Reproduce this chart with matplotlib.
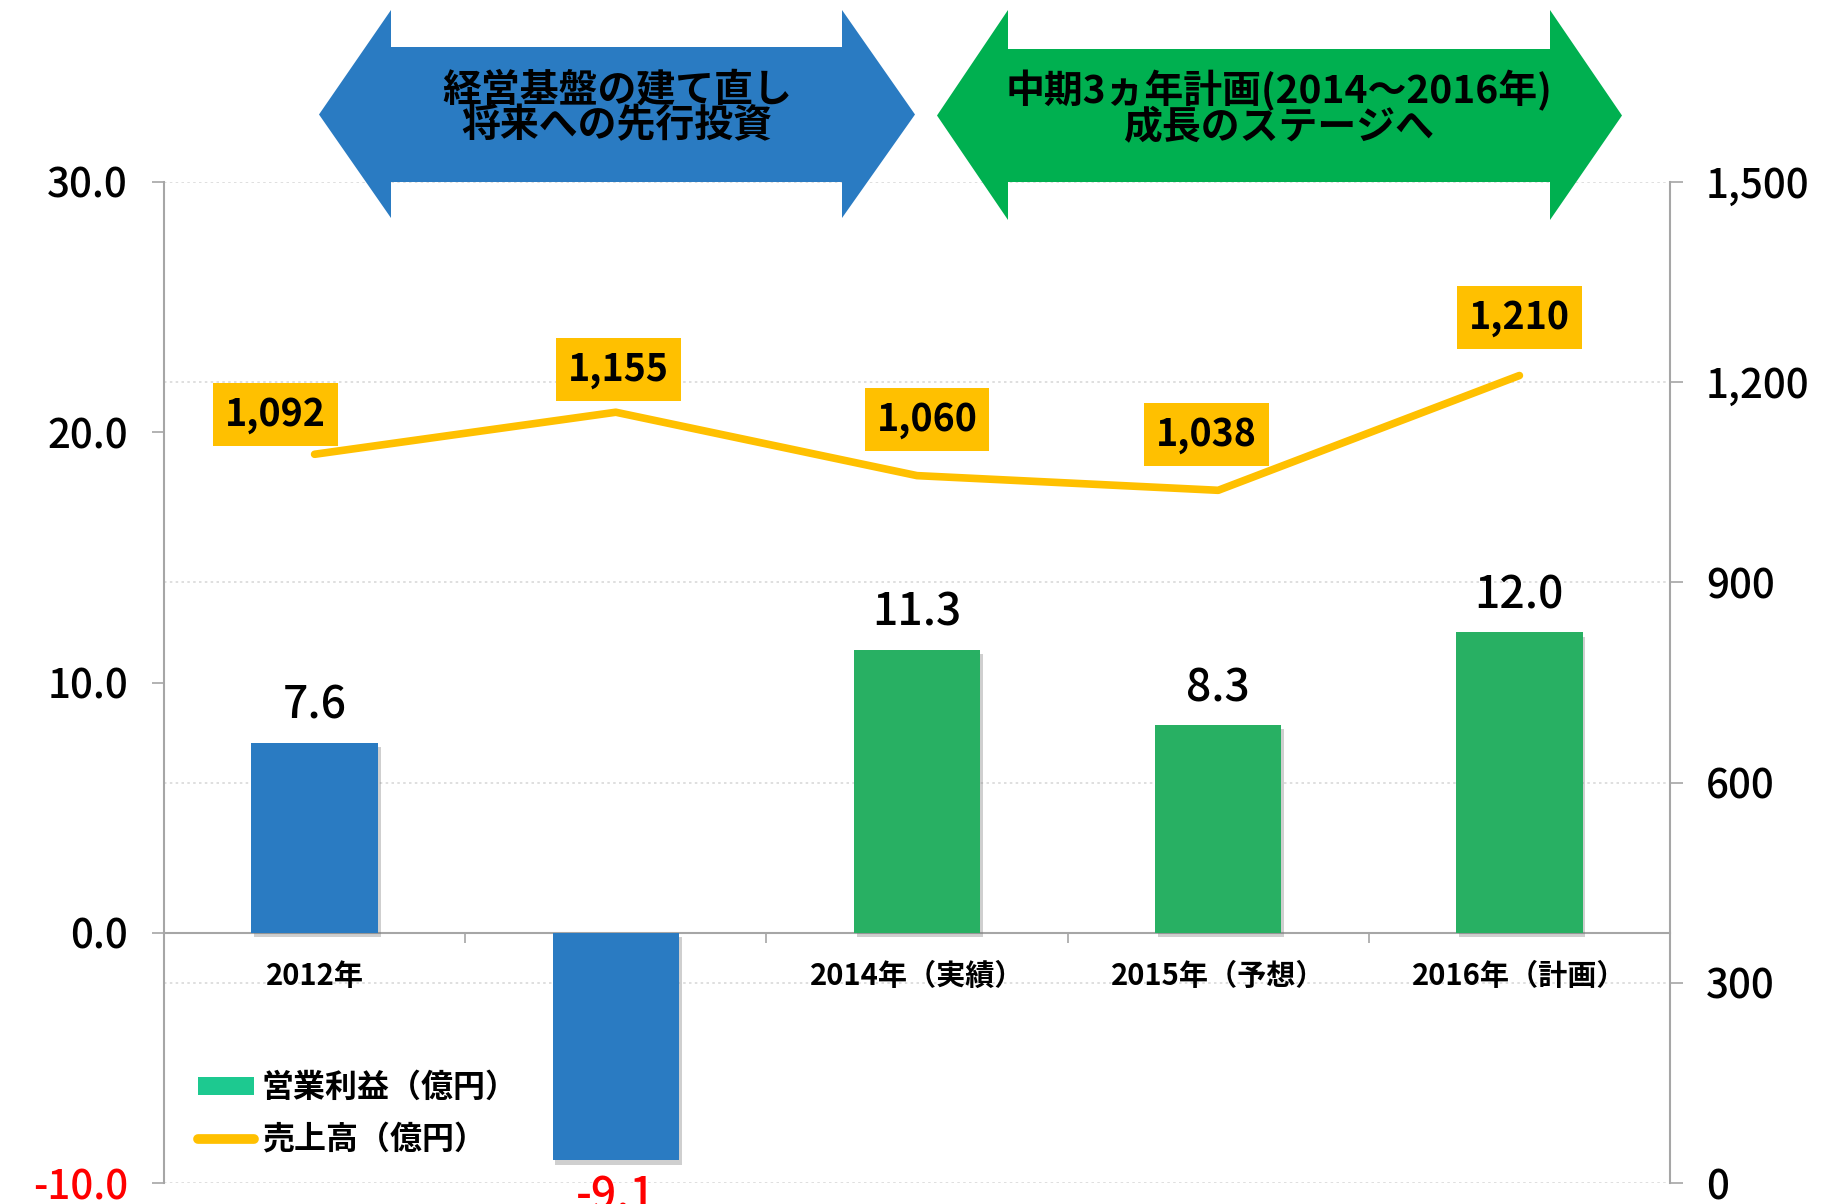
import matplotlib
matplotlib.use('Agg')
import matplotlib.pyplot as plt
import matplotlib.patheffects as pe
from matplotlib.patches import Polygon, Patch
from matplotlib.lines import Line2D
import numpy as np

plt.rcParams['font.family'] = ['Noto Sans CJK JP', 'DejaVu Sans']

# data
categories = ['2012年', '2013年', '2014年（実績）', '2015年（予想）', '2016年（計画）']
operating_profit = [7.6, -9.1, 11.3, 8.3, 12.0]   # 営業利益（億円）, left axis
sales = [1092, 1155, 1060, 1038, 1210]             # 売上高（億円）, right axis
left_ticks = [-10, 0, 10, 20, 30]
right_ticks = [0, 300, 600, 900, 1200, 1500]
phase_titles = ['経営基盤の建て直し\n将来への先行投資',
                '中期3ヵ年計画(2014～2016年)\n成長のステージへ']

BLUE = '#2A7BC2'
GREEN = '#28B063'
ARROW_GREEN = '#00B050'
YELLOW = '#FFC000'
TEAL = '#1DC990'
GRAY = '#A6A6A6'

W, H = 1834, 1204


def fx(px):
    return px / W


def fy(py):
    return 1 - py / H


fig = plt.figure(figsize=(W / 100, H / 100), dpi=100)
ax = fig.add_axes([fx(164), fy(1183), fx(1670) - fx(164), fy(182) - fy(1183)])
ax2 = ax.twinx()
ax.set_zorder(ax2.get_zorder() + 1)
ax.patch.set_visible(False)

# spine position first: it resets the tick settings
ax.spines['bottom'].set_position(('data', 0))

x = np.arange(len(categories))
bar_colors = [BLUE, BLUE, GREEN, GREEN, GREEN]

# bars with a soft shadow
bars = ax.bar(x, operating_profit, width=0.42, color=bar_colors, zorder=3)
for b in bars:
    b.set_path_effects([pe.SimplePatchShadow(offset=(2, -3), shadow_rgbFace='#777777', alpha=0.35),
                        pe.Normal()])

for xi, v in zip(x, operating_profit):
    if v >= 0:
        ax.annotate(f'{v:.1f}', xy=(xi, v), xytext=(0, 14), textcoords='offset pixels',
                    ha='center', va='bottom', fontsize=32, fontweight='medium', color='black')
    else:
        ax.annotate(f'{v:.1f}', xy=(xi, v), xytext=(0, -14), textcoords='offset pixels',
                    ha='center', va='top', fontsize=32, fontweight='medium', color='red',
                    annotation_clip=False)

ax.set_xlim(-0.5, len(categories) - 0.5)
ax.set_ylim(-10, 30)
ax.set_yticks(left_ticks)
ax.set_yticklabels([f'{t:.1f}' for t in left_ticks], fontsize=29, fontweight='medium')
ax.get_yticklabels()[0].set_color('red')
ax.tick_params(axis='y', length=9, width=1.2, color=GRAY, pad=17)

ax.set_xticks(x)
ax.set_xticklabels(categories, fontsize=21, fontweight='bold')
ax.set_xticks(x[:-1] + 0.5, minor=True)
ax.tick_params(axis='x', which='major', length=0, pad=20)
ax.tick_params(axis='x', which='minor', length=7, width=1.2, color=GRAY, direction='out')

ax.spines['bottom'].set_color(GRAY)
ax.spines['bottom'].set_linewidth(1.5)
ax.spines['left'].set_color(GRAY)
ax.spines['left'].set_linewidth(1.5)
ax.spines['top'].set_visible(False)
ax.spines['right'].set_visible(False)

# sales line on right axis
ax2.plot(x, sales, color=YELLOW, linewidth=5.5, solid_capstyle='round', solid_joinstyle='round', zorder=3)
ax2.set_ylim(0, 1500)
ax2.set_yticks(right_ticks)
ax2.set_yticklabels([f'{t:,}' for t in right_ticks], fontsize=29, fontweight='medium')
ax2.tick_params(axis='y', length=9, width=1.2, color=GRAY, pad=17)
ax2.yaxis.grid(True, linestyle=(0, (1.5, 2)), color='#D9D9D9', linewidth=1.2)
ax2.set_axisbelow(True)
for s in ['top', 'left', 'bottom']:
    ax2.spines[s].set_visible(False)
ax2.spines['right'].set_color(GRAY)
ax2.spines['right'].set_linewidth(1.5)

label_offsets = [(-39, 40), (3, 43), (10, 56), (-12, 56), (0, 58)]
for xi, v, off in zip(x, sales, label_offsets):
    ax2.annotate(f'{v:,}', xy=(xi, v), xytext=off, textcoords='offset pixels',
                 ha='center', va='center', fontsize=27, fontweight='bold', color='black',
                 bbox=dict(boxstyle='square,pad=0.32', facecolor=YELLOW, edgecolor='none'))

# legend
handles = [Patch(facecolor=TEAL, edgecolor='none'),
           Line2D([], [], color=YELLOW, linewidth=7, solid_capstyle='round')]
ax.legend(handles, ['営業利益（億円）', '売上高（億円）'], loc='upper left',
          bbox_to_anchor=(fx(198), fy(1072)), bbox_transform=fig.transFigure,
          frameon=False, borderpad=0, borderaxespad=0, handlelength=1.75, handleheight=0.5,
          handletextpad=0.25, labelspacing=0.62, prop=dict(size=23, weight='bold'))


# double-headed arrows across the top
def double_arrow(x0, x1, xh0, xh1, y_top, y_bot, yh_top, yh_bot, color):
    ym = (y_top + y_bot) / 2
    pts = [(x0, ym), (xh0, yh_top), (xh0, y_top), (xh1, y_top), (xh1, yh_top), (x1, ym),
           (xh1, yh_bot), (xh1, y_bot), (xh0, y_bot), (xh0, yh_bot)]
    poly = Polygon([(fx(a), fy(b)) for a, b in pts], closed=True, facecolor=color,
                   edgecolor='none', transform=fig.transFigure, zorder=5)
    fig.add_artist(poly)


double_arrow(319, 915, 391, 842, 47, 182, 10, 218, BLUE)
double_arrow(937, 1622, 1008, 1550, 49, 182, 10, 220, ARROW_GREEN)

for title, cx in zip(phase_titles, [617, 1279]):
    fig.text(fx(cx), fy(108), title, ha='center', va='center', fontsize=28, fontweight='bold',
             linespacing=0.88, zorder=6)

fig.savefig('out.png', dpi=100)
